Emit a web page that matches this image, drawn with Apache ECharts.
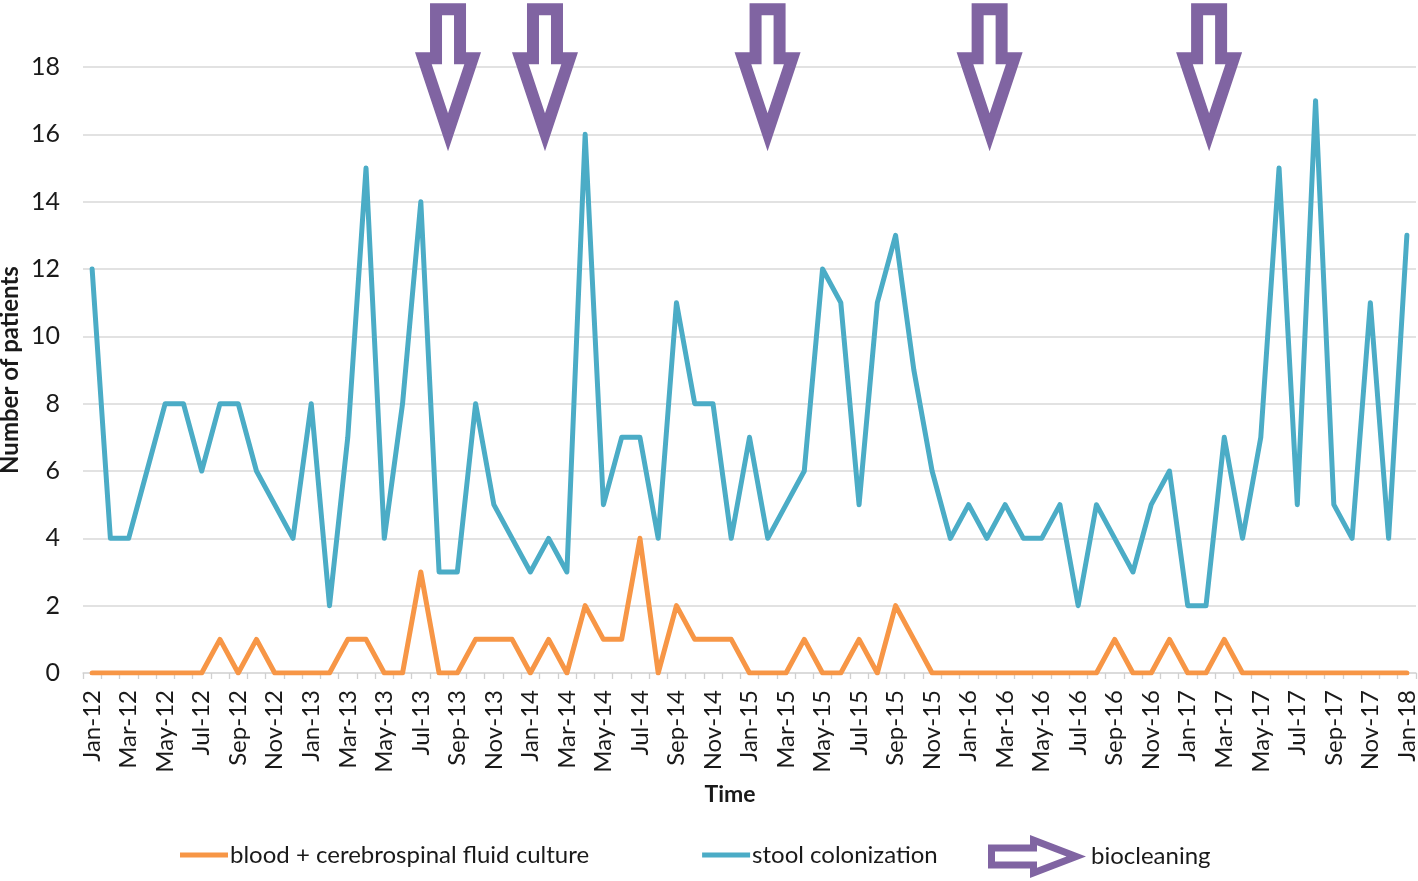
<!DOCTYPE html>
<html>
<head>
<meta charset="utf-8">
<script src="https://cdn.jsdelivr.net/npm/echarts@6/dist/echarts.min.js"></script>
<style>
html,body{margin:0;padding:0;background:#fff;}
#chart{width:1418px;height:881px;}
</style>
</head>
<body>
<div id="chart"></div>
<script>
// ---- data ----
const months = [
 'Jan-12','Feb-12','Mar-12','Apr-12','May-12','Jun-12','Jul-12','Aug-12','Sep-12','Oct-12','Nov-12','Dec-12',
 'Jan-13','Feb-13','Mar-13','Apr-13','May-13','Jun-13','Jul-13','Aug-13','Sep-13','Oct-13','Nov-13','Dec-13',
 'Jan-14','Feb-14','Mar-14','Apr-14','May-14','Jun-14','Jul-14','Aug-14','Sep-14','Oct-14','Nov-14','Dec-14',
 'Jan-15','Feb-15','Mar-15','Apr-15','May-15','Jun-15','Jul-15','Aug-15','Sep-15','Oct-15','Nov-15','Dec-15',
 'Jan-16','Feb-16','Mar-16','Apr-16','May-16','Jun-16','Jul-16','Aug-16','Sep-16','Oct-16','Nov-16','Dec-16',
 'Jan-17','Feb-17','Mar-17','Apr-17','May-17','Jun-17','Jul-17','Aug-17','Sep-17','Oct-17','Nov-17','Dec-17',
 'Jan-18'
];
const bloodCsf = [
 0,0,0,0,0,0,0,1,0,1,0,0,
 0,0,1,1,0,0,3,0,0,1,1,1,
 0,1,0,2,1,1,4,0,2,1,1,1,
 0,0,0,1,0,0,1,0,2,1,0,0,
 0,0,0,0,0,0,0,0,1,0,0,1,
 0,0,1,0,0,0,0,0,0,0,0,0,
 0
];
const stool = [
 12,4,4,6,8,8,6,8,8,6,5,4,
 8,2,7,15,4,8,14,3,3,8,5,4,
 3,4,3,16,5,7,7,4,11,8,8,4,
 7,4,5,6,12,11,5,11,13,9,6,4,
 5,4,5,4,4,5,2,5,4,3,5,6,
 2,2,7,4,7,15,5,17,5,4,11,4,
 13
];
// biocleaning arrows: position in month index units (fractional) and tip value
const biocleanX = [19.49, 24.8, 36.99, 49.15, 61.17];
const biocleanTip = [15.5, 15.5, 15.5, 15.5, 15.5];
const yTicks = {min: 0, max: 18, interval: 2};

// ---- chart ----
const FONT = 'Lato, "Open Sans", sans-serif';
const TXT = '#1a1a1a';
const PURPLE = '#8064A2';
const ORANGE = '#F79646';
const BLUE = '#4BACC6';
const chart = echarts.init(document.getElementById('chart'), null, {renderer: 'canvas'});

const legendArrow = 'path://M0,9.5 L42,9.5 L42,0 L98,21.5 L42,43 L42,33.5 L0,33.5 Z ' +
  'M7,16.5 L7,26.5 L49,26.5 L49,32.8 L78.5,21.5 L49,10.2 L49,16.5 Z';

const option = {
  backgroundColor: '#ffffff',
  animation: false,
  grid: {left: 83, right: 2, top: 67, bottom: 208, containLabel: false, outerBoundsMode: 'none'},
  legend: [
    {
      data: [
        {name: 'blood + cerebrospinal fluid culture', icon: 'rect', itemStyle: {color: ORANGE}},
        {name: 'stool colonization', icon: 'rect', itemStyle: {color: BLUE}}
      ],
      left: 180, top: 841, padding: 0,
      itemWidth: 48, itemHeight: 5, itemGap: 113,
      textStyle: {fontFamily: FONT, fontSize: 24, color: TXT, lineHeight: 28, padding: [0, 0, 0, -3]}
    },
    {
      data: [{name: 'biocleaning', icon: legendArrow, itemStyle: {color: PURPLE}}],
      left: 988, top: 835, padding: 0,
      itemWidth: 98, itemHeight: 43,
      textStyle: {fontFamily: FONT, fontSize: 24, color: TXT, lineHeight: 28}
    }
  ],
  xAxis: [
    {
      type: 'category',
      data: months,
      boundaryGap: true,
      name: 'Time',
      nameLocation: 'middle',
      nameGap: 110,
      nameTextStyle: {fontFamily: FONT, fontSize: 23, fontWeight: 'bold', color: TXT, padding: [0, 39, 0, 0]},
      axisLine: {lineStyle: {color: '#d9d9d9', width: 1.5}},
      axisTick: {show: true, interval: 0, length: 6, lineStyle: {color: '#d0d0d0', width: 1.3}},
      axisLabel: {interval: 1, rotate: 90, margin: 17, fontFamily: FONT, fontSize: 24, color: TXT},
      splitLine: {show: false}
    },
    {
      type: 'value',
      min: -0.5, max: 72.5,
      show: false
    }
  ],
  yAxis: {
    type: 'value',
    min: yTicks.min, max: yTicks.max, interval: yTicks.interval,
    name: 'Number of patients',
    nameLocation: 'middle',
    nameGap: 61,
    nameMoveOverlap: false,
    nameTextStyle: {fontFamily: FONT, fontSize: 24, fontWeight: 'bold', color: TXT},
    axisLine: {show: false},
    axisTick: {show: false},
    axisLabel: {margin: 23, fontFamily: FONT, fontSize: 25, color: TXT},
    splitLine: {lineStyle: {color: '#d9d9d9', width: 1.5}}
  },
  series: [
    {
      name: 'blood + cerebrospinal fluid culture',
      type: 'line',
      data: bloodCsf,
      symbol: 'none',
      color: ORANGE,
      lineStyle: {width: 5, color: ORANGE, cap: 'round', join: 'round'},
      z: 3
    },
    {
      name: 'stool colonization',
      type: 'line',
      data: stool,
      symbol: 'none',
      color: BLUE,
      lineStyle: {width: 5, color: BLUE, cap: 'round', join: 'round'},
      z: 2
    },
    {
      name: 'biocleaning',
      type: 'custom',
      xAxisIndex: 1,
      yAxisIndex: 0,
      clip: false,
      z: 5,
      itemStyle: {color: PURPLE},
      data: biocleanX.map((x, i) => [x, biocleanTip[i]]),
      renderItem: function (params, api) {
        const p = api.coord([api.value(0), api.value(1)]);
        const tx = p[0], ty = p[1];
        const outer = [[-18,-148],[18,-148],[18,-99],[33,-99],[0,0],[-33,-99],[-18,-99]]
          .map(q => [tx + q[0], ty + q[1]]);
        const inner = [[-6,-136],[6,-136],[6,-87],[16.3,-87],[0,-38],[-16.3,-87],[-6,-87]]
          .map(q => [tx + q[0], ty + q[1]]);
        return {
          type: 'group',
          children: [
            {type: 'polygon', shape: {points: outer}, style: {fill: PURPLE}},
            {type: 'polygon', shape: {points: inner}, style: {fill: '#ffffff'}}
          ]
        };
      }
    }
  ]
};
chart.setOption(option);
</script>
</body>
</html>
